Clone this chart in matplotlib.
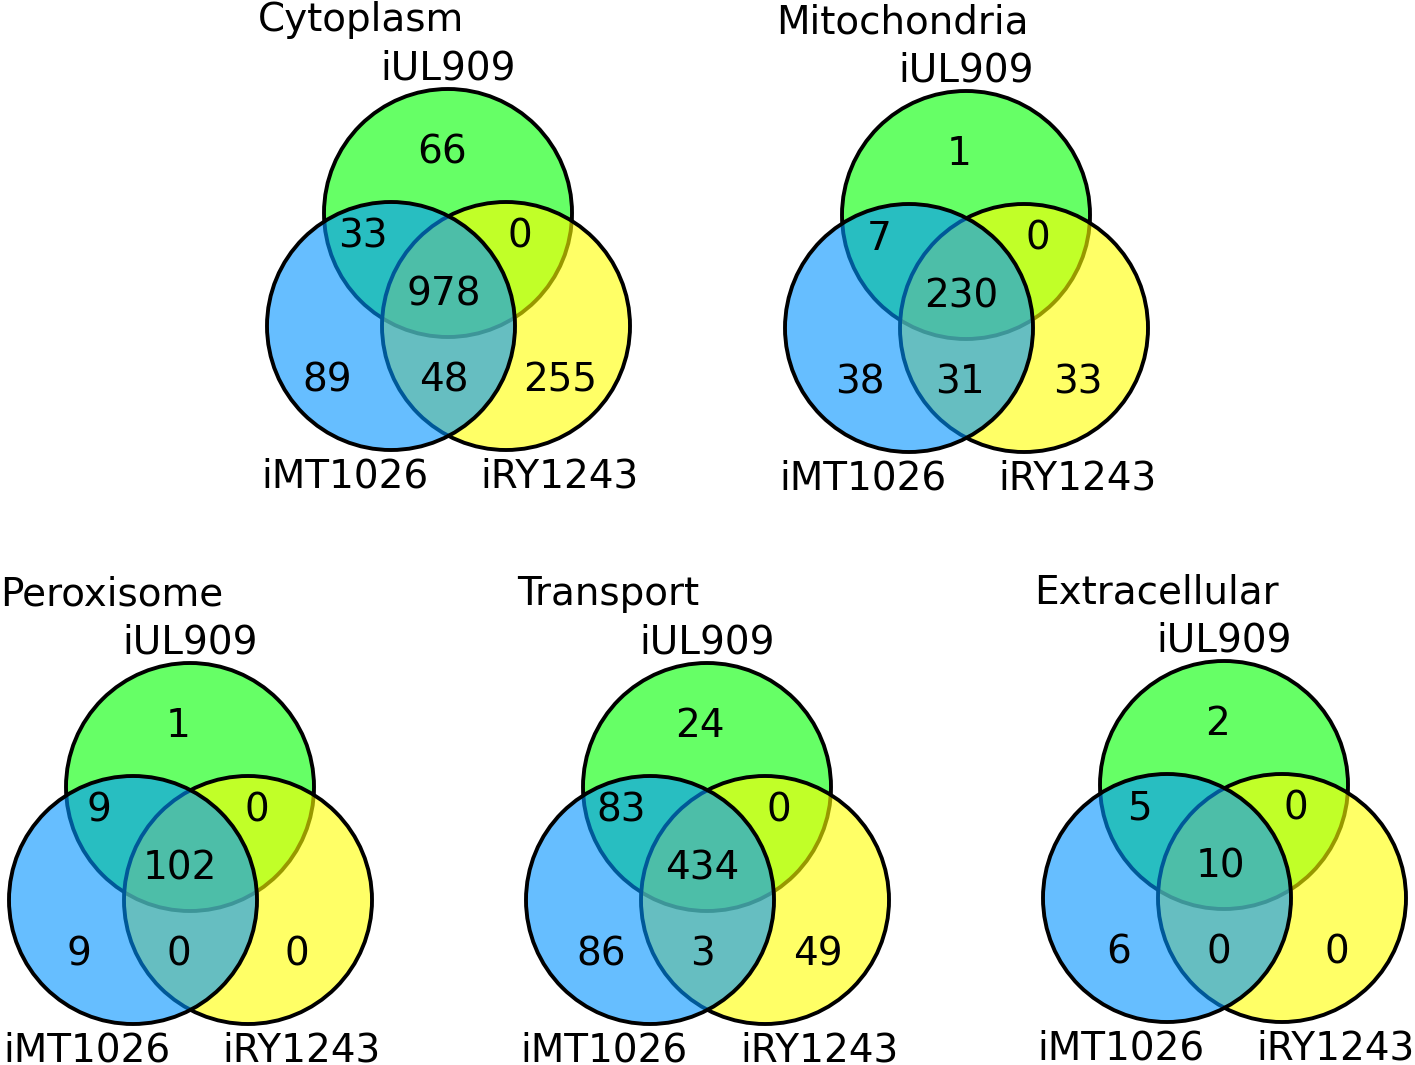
import numpy as np
import matplotlib
matplotlib.use("Agg")
import matplotlib.pyplot as plt
from matplotlib.patches import Circle

# ============================================================================================
# Data
titles = ["Cytoplasm", "Mitochondria", "Peroxisome", "Transport", "Extracellular"]
set_labels = ["iUL909", "iMT1026", "iRY1243"]

# region order: UL only, UL&MT, UL&RY, all three, MT only, MT&RY, RY only
cytoplasm = [66, 33, 0, 978, 89, 48, 255]
mitochondria = [1, 7, 0, 230, 38, 31, 33]
peroxisome = [1, 9, 0, 102, 9, 0, 0]
transport = [24, 83, 0, 434, 86, 3, 49]
extracellular = [2, 5, 0, 10, 6, 0, 0]
counts = [cytoplasm, mitochondria, peroxisome, transport, extracellular]

# ============================================================================================
# Layout (pixel coords of the top circle centre for each panel)
centres = [(448, 213), (966, 215), (190, 787), (707, 787), (1224, 785)]
R = 124
circle_off = {"UL": (0, 0), "RY": (58, 113), "MT": (-57, 113)}
face = {"UL": (0.0, 1.0, 0.0, 0.6), "RY": (1.0, 1.0, 0.0, 0.6), "MT": (0.0, 0.58, 1.0, 0.6)}
# label x offsets per panel, baseline y offsets shared
region_dx = [[-6, -85, 72, -4, -121, -4, 112],
             [-7, -87, 72, -5, -106, -6, 112],
             [-12, -91, 67, -10, -111, -11, 107],
             [-7, -86, 72, -5, -106, -5, 111],
             [-7, -85, 72, -4, -105, -5, 113]]
region_dy = [-50, 35, 35, 92, 178, 178, 178]
FS = 28

fig = plt.figure(figsize=(14.15, 10.65), dpi=100)
ax = fig.add_axes([0, 0, 1, 1])
ax.set_xlim(0, 1415)
ax.set_ylim(1065, 0)
ax.axis("off")

for title, vals, (gx, gy), dxs in zip(titles, counts, centres, region_dx):
    for z, key in enumerate(["UL", "RY", "MT"]):
        dx, dy = circle_off[key]
        ax.add_patch(Circle((gx + dx, gy + dy), R, facecolor=face[key],
                            edgecolor="black", linewidth=2.8, zorder=1 + z))
    for v, ox, oy in zip(vals, dxs, region_dy):
        ax.text(gx + ox, gy + oy, str(v), ha="center", va="baseline", fontsize=FS, zorder=10)
    ax.text(gx, gy - 134, set_labels[0], ha="center", va="baseline", fontsize=FS)
    ax.text(gx - 103, gy + 274, set_labels[1], ha="center", va="baseline", fontsize=FS)
    ax.text(gx + 112, gy + 274, set_labels[2], ha="center", va="baseline", fontsize=FS)
    ax.text(gx - 190, gy - 182, title, ha="left", va="baseline", fontsize=FS)

fig.savefig("out.png", dpi=100, facecolor="white")
